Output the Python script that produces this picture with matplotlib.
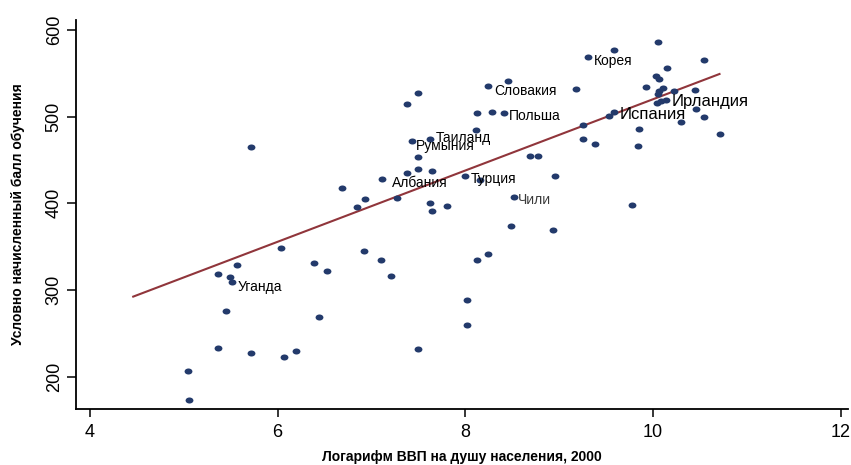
import matplotlib
matplotlib.use("Agg")
import matplotlib.pyplot as plt
from matplotlib.path import Path
from matplotlib.transforms import Affine2D

# ==========================================
# DATA
# ==========================================
log_gdp = [
    5.72, 6.69, 6.93, 6.85, 6.04, 6.39, 6.53, 5.57, 5.36, 5.49,
    5.51, 5.45, 6.44, 5.36, 5.72, 6.07, 6.19, 5.04, 5.05, 6.92,
    7.10, 7.21, 7.27, 7.62, 7.64, 7.80, 8.52, 8.49, 8.94, 8.12,
    8.24, 8.02, 8.02, 7.50, 9.31, 7.50, 7.38, 8.24, 8.46, 9.18,
    8.12, 8.29, 8.41, 9.25, 8.11, 9.26, 9.38, 7.43, 7.62, 7.50,
    7.38, 7.50, 7.64, 7.11, 8.00, 8.69, 8.77, 8.96, 10.05, 9.59,
    10.55, 10.15, 10.03, 10.07, 9.93, 10.11, 10.06, 10.05, 10.22, 10.45,
    10.14, 10.09, 10.04, 10.46, 10.55, 10.30, 9.59, 9.53, 9.85, 9.84,
    10.72, 9.78, 8.16,
]
score = [
    464.5, 418, 405, 396, 348, 330.7, 321.5, 329, 318.5, 315,
    309, 276, 269, 232.6, 227.7, 222.7, 230, 206.6, 173, 345,
    334, 316, 406, 400, 391.5, 397, 407, 374, 369, 335,
    342, 288, 260, 232, 568.4, 527.7, 515, 535, 541.5, 531.5,
    504, 505.7, 504, 490.7, 485, 474, 468, 471.5, 474.6, 453,
    435.4, 439, 437, 428, 431.5, 455, 454, 432, 586, 577,
    565, 556, 546.5, 543, 533.7, 533, 529, 526, 530, 531,
    519.6, 518.5, 515.5, 509, 500, 493.6, 505, 500.8, 485.8, 466,
    479.8, 397.6, 427,
]

# labelled countries (marker positions)
label_names = ["Корея", "Словакия", "Польша", "Таиланд", "Румыния", "Албания",
               "Турция", "Чили", "Испания", "Ирландия", "Уганда"]
label_x = [9.31, 8.24, 8.41, 7.62, 7.43, 7.11, 8.00, 8.52, 9.59, 10.14, 5.51]
label_y = [568.4, 535, 504, 474.6, 471.5, 428, 431.5, 407, 505, 519.6, 309]

# fitted line end points
fit_x = [4.46, 10.71]
fit_y = [292.3, 549.2]

x_ticks = [4, 6, 8, 10, 12]
y_ticks = [200, 300, 400, 500, 600]

# ==========================================
# PLOT
# ==========================================
plt.rcParams['font.family'] = ['Liberation Sans', 'DejaVu Sans']

fig = plt.figure(figsize=(8.51, 4.65), dpi=100)
ax = fig.add_axes([0.0893, 0.1204, 0.9072, 0.8366])

navy = '#233a6b'
maroon = '#90353b'

# slightly flattened circle marker
ellipse = Path.unit_circle().transformed(Affine2D().scale(1.3, 1.0))

ax.scatter(log_gdp, score, marker=ellipse, s=32, color=navy, linewidths=0, zorder=3)
ax.plot(fit_x, fit_y, color=maroon, linewidth=1.5, zorder=2)

# label offsets in points (position only)
offsets = [(4.3, -2.4), (4.3, -3.1), (3.6, -2.4), (4.1, 0.7), (2.9, -3.2),
           (7.2, -2.7), (4.1, -2.4), (2.9, -1.7), (3.5, -1.7), (4.1, -1.4),
           (4.3, -3.4)]
for name, x, y, off in zip(label_names, label_x, label_y, offsets):
    size = 12 if name in ("Испания", "Ирландия") else 10
    color = '#3a3a3a' if name == "Чили" else 'black'
    ax.annotate(name, (x, y), xytext=off, textcoords='offset points',
                ha='left', va='center', fontsize=size, color=color, zorder=4)

ax.set_xlim(3.85, 12.08)
ax.set_ylim(162.6, 611.5)
ax.set_xticks(x_ticks)
ax.set_yticks(y_ticks)
ax.tick_params(axis='x', length=6, width=1.1, labelsize=13, pad=5)
ax.tick_params(axis='y', length=6.5, width=1.1, labelsize=13, pad=3)
for lab in ax.get_yticklabels():
    lab.set_rotation(90)
    lab.set_va('center')

for side in ('top', 'right'):
    ax.spines[side].set_visible(False)
for side in ('left', 'bottom'):
    ax.spines[side].set_linewidth(1.3)

ax.set_xlabel('Логарифм ВВП на душу населения, 2000', fontsize=10,
              fontweight='bold', labelpad=6)
ax.set_ylabel('Условно начисленный балл обучения', fontsize=10,
              fontweight='bold', labelpad=15)

fig.savefig('out.png', dpi=100)
